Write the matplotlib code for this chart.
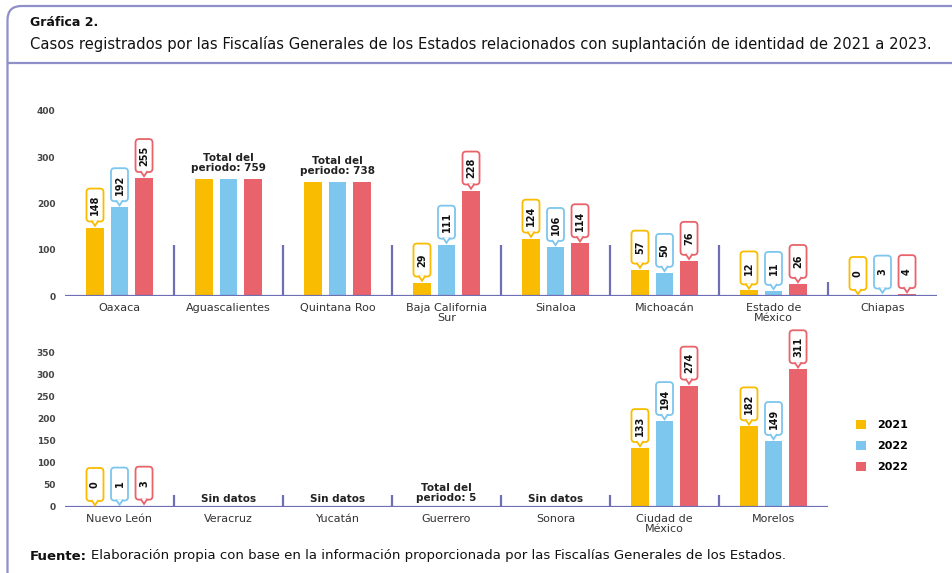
import numpy as np
import matplotlib.pyplot as plt
import matplotlib.transforms as mtransforms
from matplotlib.patches import FancyBboxPatch, Polygon, Patch
from matplotlib.lines import Line2D

# datos
anios = ['2021', '2022', '2022']
colores = ['#F9BC00', '#7DC6EE', '#E8636B']

estados_1 = ['Oaxaca', 'Aguascalientes', 'Quintana Roo', 'Baja California\nSur',
             'Sinaloa', 'Michoacán', 'Estado de\nMéxico', 'Chiapas']
v2021_1 = [148, 253, 246, 29, 124, 57, 12, 0]
v2022a_1 = [192, 253, 246, 111, 106, 50, 11, 3]
v2022b_1 = [255, 253, 246, 228, 114, 76, 26, 4]
con_etiqueta_1 = [True, False, False, True, True, True, True, True]
notas_1 = {1: 'Total del\nperiodo: 759', 2: 'Total del\nperiodo: 738'}

estados_2 = ['Nuevo León', 'Veracruz', 'Yucatán', 'Guerrero', 'Sonora',
             'Ciudad de\nMéxico', 'Morelos']
v2021_2 = [0, None, None, 2, None, 133, 182]
v2022a_2 = [1, None, None, 1, None, 194, 149]
v2022b_2 = [3, None, None, 2, None, 274, 311]
con_etiqueta_2 = [True, False, False, False, False, True, True]
notas_2 = {1: 'Sin datos', 2: 'Sin datos', 3: 'Total del\nperiodo: 5', 4: 'Sin datos'}

color_marco = '#8F8FC9'
color_eje = '#6E6EB4'
color_texto = '#333333'

fig = plt.figure(figsize=(9.52, 5.73), dpi=100)
H = 573.0
W = 952.0


def etiqueta(ax, x, v, texto, color):
    # globo con pico, en pulgadas alrededor del punto (x, v)
    tr = fig.dpi_scale_trans + mtransforms.ScaledTranslation(x, v, ax.transData)
    caja = FancyBboxPatch((-0.085, 0.06), 0.17, 0.33,
                          boxstyle='round,pad=0,rounding_size=0.035',
                          transform=tr, fc='white', ec=color, lw=1.3,
                          clip_on=False, zorder=4)
    ax.add_patch(caja)
    pico = Polygon([(-0.035, 0.07), (0, 0.018), (0.035, 0.07)], closed=False,
                   transform=tr, fc='white', ec=color, lw=1.3,
                   clip_on=False, zorder=5)
    ax.add_patch(pico)
    ax.text(0, 0.225, texto, transform=tr, rotation=90, ha='center', va='center',
            fontsize=7, fontweight='bold', color='#111111', zorder=6)


def panel(ax, estados, series, con_etiqueta, notas, ymax, yticks, sep_alto, sep_bajo=None):
    n = len(estados)
    offs = [-0.225, 0, 0.225]
    ancho = 0.158
    for k, serie in enumerate(series):
        for i, v in enumerate(serie):
            if v is None:
                continue
            ax.bar(i + offs[k], v, width=ancho, color=colores[k], zorder=2)
            if con_etiqueta[i]:
                etiqueta(ax, i + offs[k], v, str(v), colores[k])
    for i, txt in notas.items():
        tope = max([s[i] or 0 for s in series])
        tr = fig.dpi_scale_trans + mtransforms.ScaledTranslation(i, tope, ax.transData)
        ax.text(0, 0.06 if tope > 10 else 0.03, txt, transform=tr, ha='center', va='bottom',
                fontsize=7.5, fontweight='bold', color='#222222', linespacing=1.0)
    # separadores entre grupos
    for i in range(n - 1):
        alto = sep_alto
        if sep_bajo is not None and i == n - 2:
            alto = sep_bajo
        ax.plot([i + 0.5, i + 0.5], [0, alto], color=color_eje, lw=1.6, zorder=1,
                solid_capstyle='butt')
    ax.axhline(0, color=color_eje, lw=1.6, zorder=3)
    ax.set_xlim(-0.5, n - 0.5)
    ax.set_ylim(0, ymax)
    ax.set_yticks(yticks)
    ax.set_yticklabels([str(t) for t in yticks], fontsize=6.5, color='#444444',
                       fontweight='bold')
    ax.set_xticks(range(n))
    ax.set_xticklabels(estados, fontsize=8, color=color_texto, linespacing=1.0)
    ax.tick_params(axis='both', length=0)
    ax.tick_params(axis='x', pad=5)
    ax.tick_params(axis='y', pad=7)
    for s in ax.spines.values():
        s.set_visible(False)
    ax.patch.set_alpha(0)


ax1 = fig.add_axes([65 / W, 1 - 296 / H, 872 / W, 185 / H])
panel(ax1, estados_1, [v2021_1, v2022a_1, v2022b_1], con_etiqueta_1, notas_1,
      400, [0, 100, 200, 300, 400], 110, 30)

ax2 = fig.add_axes([65 / W, 1 - 507 / H, 763 / W, 155 / H])
panel(ax2, estados_2, [v2021_2, v2022a_2, v2022b_2], con_etiqueta_2, notas_2,
      350, [0, 50, 100, 150, 200, 250, 300, 350], 28)

# leyenda
manijas = [Patch(facecolor=c, edgecolor='none') for c in colores]
fig.legend(manijas, anios, loc='center left', bbox_to_anchor=(846 / W, 1 - 446 / H),
           frameon=False, handlelength=0.9, handleheight=0.9, handletextpad=1.0,
           labelspacing=0.95, prop={'size': 8, 'weight': 'bold'})

# marco
marco = FancyBboxPatch((0.075, -1.0), 10.0, 5.73 - 0.06 + 1.0,
                       boxstyle='round,pad=0,rounding_size=0.14',
                       transform=fig.dpi_scale_trans, fc='none', ec=color_marco, lw=1.6)
fig.add_artist(marco)
fig.add_artist(Line2D([0.075, 9.52], [5.73 - 0.63, 5.73 - 0.63], transform=fig.dpi_scale_trans,
                      color=color_marco, lw=1.6))

# textos
fig.text(30 / W, 1 - 22 / H, 'Gráfica 2.', fontsize=9, fontweight='bold', va='center',
         color='#111111')
fig.text(30 / W, 1 - 44 / H,
         'Casos registrados por las Fiscalías Generales de los Estados relacionados con '
         'suplantación de identidad de 2021 a 2023.',
         fontsize=10.6, va='center', color='#111111')
fuente = fig.text(30 / W, 1 - 556 / H, 'Fuente:', fontsize=9.5, fontweight='bold',
                  va='center', color='#111111')
fig.canvas.draw()
x_fin = fuente.get_window_extent().x1
fig.text((x_fin + 4) / W, 1 - 556 / H,
         'Elaboración propia con base en la información proporcionada por las Fiscalías '
         'Generales de los Estados.',
         fontsize=9.5, va='center', color='#111111')

fig.savefig('out.png', dpi=100)
